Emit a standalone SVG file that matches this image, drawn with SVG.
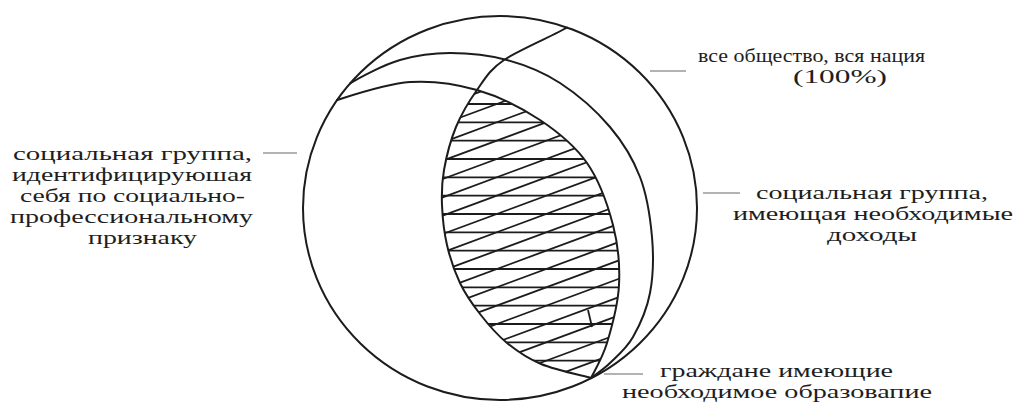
<svg xmlns="http://www.w3.org/2000/svg" width="1014" height="412" viewBox="0 0 1014 412">
<style>
.c{fill:none;stroke:#1c1c1c;stroke-width:2;stroke-linejoin:round;stroke-linecap:round}
.h{stroke:#1c1c1c;stroke-width:1.8;fill:none}
.lead{stroke:#9a9a9a;stroke-width:1.3;fill:none}
text{font-family:"Liberation Serif","Times New Roman","DejaVu Serif",serif;font-size:19px;fill:#1e1e1e}
</style>
<defs>
<clipPath id="lens">
<path d="M477,90 C469,101.2 461.5,113.7 456,127 C450.5,140.3 446.3,157 444,170 C441.7,183 441.5,192.5 442,205 C442.5,217.5 444,232 447,245 C450,258 454.5,271.5 460,283 C465.5,294.5 472.2,304 480,314 C487.8,324 496.8,334.7 507,343 C517.2,351.3 527,358.2 541,364 C555,369.8 582.7,375.7 591,378 C593.7,372.2 602.3,358.5 607,343 C611.7,327.5 618,304.7 619,285 C620,265.3 618.3,245.3 613,225 C607.7,204.7 599.2,180.5 587,163 C574.8,145.5 558.3,132.2 540,120 C521.7,107.8 498.7,96.3 477,90 Z"/>
</clipPath>
</defs>
<rect width="1014" height="412" fill="#fff"/>

<g id="hatch" clip-path="url(#lens)">
<g class="h">
<line x1="430" y1="104" x2="630" y2="104"/>
<line x1="430" y1="122.3" x2="630" y2="122.3"/>
<line x1="430" y1="140.7" x2="630" y2="140.7"/>
<line x1="430" y1="159" x2="630" y2="159"/>
<line x1="430" y1="177.3" x2="630" y2="177.3"/>
<line x1="430" y1="195.7" x2="630" y2="195.7"/>
<line x1="430" y1="214" x2="630" y2="214"/>
<line x1="430" y1="232.3" x2="630" y2="232.3"/>
<line x1="430" y1="250.7" x2="630" y2="250.7"/>
<line x1="430" y1="269" x2="630" y2="269"/>
<line x1="430" y1="287.3" x2="630" y2="287.3"/>
<line x1="430" y1="305.7" x2="630" y2="305.7"/>
<line x1="430" y1="324" x2="630" y2="324"/>
<line x1="430" y1="342.3" x2="630" y2="342.3"/>
<line x1="430" y1="360.7" x2="630" y2="360.7"/>
<line x1="430" y1="92" x2="630" y2="18"/>
<line x1="430" y1="110.3" x2="630" y2="36.3"/>
<line x1="430" y1="128.7" x2="630" y2="54.7"/>
<line x1="430" y1="147" x2="630" y2="73"/>
<line x1="430" y1="165.3" x2="630" y2="91.3"/>
<line x1="430" y1="183.7" x2="630" y2="109.7"/>
<line x1="430" y1="202" x2="630" y2="128"/>
<line x1="430" y1="220.3" x2="630" y2="146.3"/>
<line x1="430" y1="238.7" x2="630" y2="164.7"/>
<line x1="430" y1="257" x2="630" y2="183"/>
<line x1="430" y1="275.3" x2="630" y2="201.3"/>
<line x1="430" y1="293.7" x2="630" y2="219.7"/>
<line x1="430" y1="312" x2="630" y2="238"/>
<line x1="430" y1="330.3" x2="630" y2="256.3"/>
<line x1="430" y1="348.7" x2="630" y2="274.7"/>
<line x1="430" y1="367" x2="630" y2="293"/>
<line x1="430" y1="385.3" x2="630" y2="311.3"/>
<line x1="430" y1="403.7" x2="630" y2="329.7"/>
<line x1="430" y1="422" x2="630" y2="348"/>
<line x1="430" y1="440.3" x2="630" y2="366.3"/>
<line x1="588" y1="310" x2="592" y2="327"/>
</g>
</g>

<g id="society">
<ellipse class="c" cx="500" cy="208" rx="197" ry="192"/>
<text x="698" y="62" textLength="227" lengthAdjust="spacingAndGlyphs">все общество, вся нация</text>
<text x="793" y="83" textLength="94" lengthAdjust="spacingAndGlyphs">(100%)</text>
</g>

<g id="income-group">
<path class="c" d="M350,83.5 C358.3,78.3 383.3,64.8 400,60 C416.7,55.2 432.2,53 450,53 C467.8,53 488.7,55 507,60 C525.3,65 542.8,71.8 560,83 C577.2,94.2 596.7,111.3 610,127 C623.3,142.7 633,158.7 640,177 C647,195.3 650.3,217.7 652,237 C653.7,256.3 653.2,276.3 650,293 C646.8,309.7 639.7,325.3 633,337 C626.3,348.7 617,356.2 610,363 C603,369.8 594.2,375.5 591,378"/>
<text x="756" y="199" textLength="232" lengthAdjust="spacingAndGlyphs">социальная группа,</text>
<text x="733" y="220" textLength="280" lengthAdjust="spacingAndGlyphs">имеющая необходимые</text>
<text x="827" y="241" textLength="90" lengthAdjust="spacingAndGlyphs">доходы</text>
</g>

<g id="professional-group">
<path class="c" d="M337,100 C349.2,96.2 386.7,83.5 410,82 C433.3,80.5 455.3,83.7 477,90 C498.7,96.3 521.7,107.8 540,120 C558.3,132.2 574.8,145.5 587,163 C599.2,180.5 607.7,204.7 613,225 C618.3,245.3 620,265.3 619,285 C618,304.7 611.7,327.5 607,343 C602.3,358.5 593.7,372.2 591,378"/>
<text x="13" y="160" textLength="239" lengthAdjust="spacingAndGlyphs">социальная группа,</text>
<text x="12" y="181" textLength="240" lengthAdjust="spacingAndGlyphs">идентифицируюшая</text>
<text x="20" y="202" textLength="225" lengthAdjust="spacingAndGlyphs">себя по социально-</text>
<text x="10" y="223" textLength="243" lengthAdjust="spacingAndGlyphs">профессиональному</text>
<text x="88" y="244" textLength="109" lengthAdjust="spacingAndGlyphs">признаку</text>
</g>

<g id="education-group">
<path class="c" d="M567,27.5 C556.5,34.2 519,49.8 504,60 C489,70.2 485,78.8 477,90 C469,101.2 461.5,113.7 456,127 C450.5,140.3 446.3,157 444,170 C441.7,183 441.5,192.5 442,205 C442.5,217.5 444,232 447,245 C450,258 454.5,271.5 460,283 C465.5,294.5 472.2,304 480,314 C487.8,324 496.8,334.7 507,343 C517.2,351.3 527,358.2 541,364 C555,369.8 582.7,375.7 591,378"/>
<text x="660" y="377" textLength="233" lengthAdjust="spacingAndGlyphs">граждане имеющие</text>
<text x="622" y="398" textLength="310" lengthAdjust="spacingAndGlyphs">необходимое образовапие</text>
</g>

<g id="connectors">
<line class="lead" x1="650" y1="71" x2="686" y2="71"/>
<line class="lead" x1="703" y1="193" x2="740" y2="193"/>
<line class="lead" x1="263" y1="153" x2="297" y2="153"/>
<line class="lead" x1="604" y1="374" x2="643" y2="374"/>
</g>
</svg>
